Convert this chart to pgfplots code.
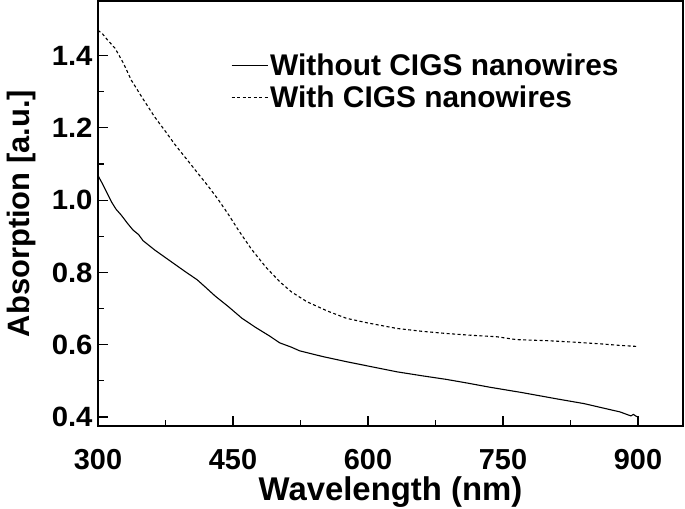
\documentclass[border=0pt]{standalone}
\usepackage{fontspec}
\setmainfont{Liberation Sans}
\newfontfamily\wide[FakeStretch=1.05]{Liberation Sans}
\usepackage{pgfplots}
\pgfplotsset{compat=1.18}

\pgfplotstableread{
nm  abs
300 1.068
305 1.045
310 1.020
315 0.995
320 0.975
326 0.958
333 0.935
339 0.917
345 0.905
350 0.888
363 0.862
380 0.832
397 0.802
410 0.780
419 0.760
430 0.735
445 0.705
460 0.673
475 0.648
490 0.625
502 0.605
515 0.593
524 0.583
550 0.567
576 0.553
600 0.541
632 0.525
660 0.514
687 0.504
710 0.494
736 0.482
770 0.468
810 0.450
840 0.437
866 0.422
880 0.414
892 0.403
895 0.407
898 0.402
900 0.400
}\without

\pgfplotstableread{
nm  abs
300 1.470
305 1.460
310 1.445
319 1.420
328 1.380
337 1.332
350 1.280
363 1.230
375 1.190
386 1.152
398 1.115
411 1.074
422 1.040
434 1.000
445 0.960
456 0.917
470 0.866
486 0.816
502 0.774
515 0.746
532 0.719
555 0.693
576 0.673
600 0.660
632 0.645
660 0.637
687 0.631
715 0.626
743 0.622
765 0.614
800 0.611
829 0.607
860 0.602
880 0.598
900 0.595
}\withnw

\begin{document}
\begin{tikzpicture}
\begin{axis}[name=ax,
  width=585bp, height=425bp, scale only axis,
  xmin=300, xmax=950, ymin=0.375, ymax=1.551,
  xtick={300,450,600,750,900}, minor x tick num=1,
  ytick={0.4,0.6,...,1.41}, minor y tick num=1,
  xtick pos=left, ytick pos=left, tick align=inside,
  major tick length=10bp, minor tick length=6bp,
  axis line style={line width=1.6bp},
  every tick/.style={black, line width=1.2bp},
  /pgf/number format/assume math mode=true,
  yticklabel style={/pgf/number format/fixed, /pgf/number format/fixed zerofill,
    /pgf/number format/precision=1, xshift=-2bp,
    font=\wide\bfseries\fontsize{28}{30}\selectfont},
  xticklabel style={/pgf/number format/fixed, yshift=-20bp,
    font=\bfseries\fontsize{29}{30}\selectfont},
  xlabel={Wavelength (nm)}, ylabel={Absorption [a.u.]},
  xlabel style={font=\bfseries\fontsize{33}{36}\selectfont, yshift=0bp},
  ylabel style={font=\bfseries\fontsize{31}{36}\selectfont, yshift=9bp},
  legend style={at={(0.222,0.885)}, anchor=north west, draw=none, fill=none,
    font=\bfseries\fontsize{30}{32}\selectfont, row sep=5bp,
    /tikz/every even column/.append style={column sep=2bp}},
  legend cell align=left,
  legend image code/.code={\draw[#1] (0bp,0bp) -- (36bp,0bp);},
]
\addplot[black, line width=1.1bp] table[x=nm, y=abs] {\without};
\addplot[black, line width=1.1bp, dash pattern=on 3bp off 2.5bp] table[x=nm, y=abs] {\withnw};
\legend{Without CIGS nanowires, With CIGS nanowires}
\end{axis}
\pgfresetboundingbox
\path ([xshift=-98bp,yshift=-82bp]ax.south west) rectangle ([xshift=2bp,yshift=1bp]ax.north east);
\end{tikzpicture}
\end{document}
